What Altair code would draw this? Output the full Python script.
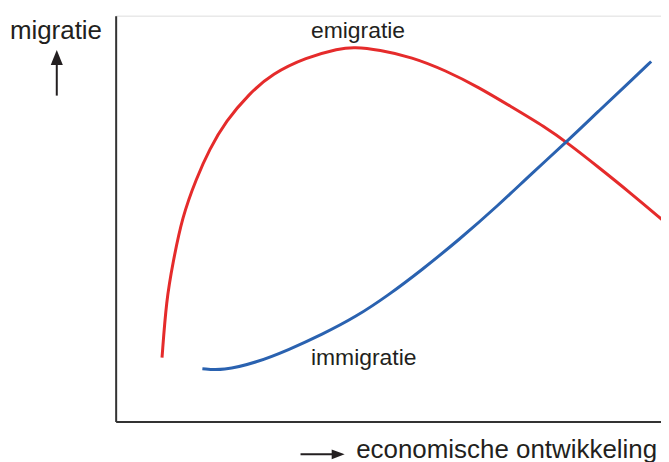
import altair as alt
import pandas as pd

# Curve values (x: economic development 0-100, y: migration 0-100)
emig_x = [8.5, 9.3, 10.5, 12.2, 14.8, 17.2, 20.2, 24.5, 28.7, 34.9, 41.0, 43.7, 48.3, 54.3, 60.5, 66.5, 72.6, 78.7, 83.0, 88.5, 94.5, 100.4]
emig_y = [15.7, 30.0, 39.1, 50.4, 59.9, 67.1, 74.0, 80.8, 85.7, 89.7, 91.9, 92.3, 91.6, 89.8, 86.5, 82.4, 77.5, 72.6, 68.5, 62.7, 56.2, 49.5]
immi_x = [15.9, 19.6, 25.8, 31.8, 37.8, 44.1, 50.1, 56.1, 62.9, 70.2, 76.2, 82.6, 88.5, 94.5, 98.2]
immi_y = [13.0, 12.5, 14.5, 17.7, 21.4, 25.8, 31.2, 37.3, 44.7, 53.3, 61.0, 68.8, 76.4, 84.0, 88.7]

series_names = ["emigratie", "immigratie"]
series_colors = ["#e52b2b", "#2a62b0"]

# Text annotations (in the same data units)
label_text = ["migratie", "emigratie", "immigratie", "economische ontwikkeling"]
label_x = [-19.4, 35.8, 35.8, 44.1]
label_y = [94.3, 94.6, 14.0, -9.1]
label_size = [26, 23, 23, 26]

# Arrows: shafts and heads
shaft_x = [-10.8, 33.9]
shaft_x2 = [-10.8, 40.0]
shaft_y = [80.3, -8.1]
shaft_y2 = [89.0, -8.1]
head_x = [-10.8, 40.8]
head_y = [89.7, -8.1]
head_shape = ["M0,-1L0.8,1L-0.8,1Z", "M1,0L-1,0.75L-1,-0.75Z"]
head_size = [230, 170]

lines = pd.DataFrame(
    {"x": emig_x + immi_x, "y": emig_y + immi_y,
     "serie": ["emigratie"] * len(emig_x) + ["immigratie"] * len(immi_x),
     "order": list(range(len(emig_x))) + list(range(len(immi_x)))}
)
labels = pd.DataFrame({"t": label_text, "x": label_x, "y": label_y, "s": label_size})
shafts = pd.DataFrame({"x": shaft_x, "x2": shaft_x2, "y": shaft_y, "y2": shaft_y2})
heads = pd.DataFrame({"x": head_x, "y": head_y, "shape": head_shape, "size": head_size})

xs = alt.Scale(domain=[0, 100], nice=False, zero=False)
ys = alt.Scale(domain=[0, 100], nice=False, zero=False)
axis_style = dict(labels=False, ticks=False, grid=False, title=None,
                  domainColor="#333333", domainWidth=2)

curves = alt.Chart(lines).mark_line(strokeWidth=3, interpolate="basis", strokeCap="butt").encode(
    x=alt.X("x:Q", scale=xs, axis=alt.Axis(**axis_style)),
    y=alt.Y("y:Q", scale=ys, axis=alt.Axis(**axis_style)),
    color=alt.Color("serie:N", scale=alt.Scale(domain=series_names, range=series_colors), legend=None),
    order="order:Q",
)

texts = alt.Chart(labels).mark_text(
    align="left", baseline="alphabetic", font="Liberation Sans", color="#231f20"
).encode(
    x=alt.X("x:Q", scale=xs), y=alt.Y("y:Q", scale=ys), text="t:N",
    size=alt.Size("s:Q", scale=None, legend=None),
)

shaft_layer = alt.Chart(shafts).mark_rule(color="#231f20", strokeWidth=2).encode(
    x=alt.X("x:Q", scale=xs), x2="x2:Q", y=alt.Y("y:Q", scale=ys), y2="y2:Q"
)

head_layer = alt.Chart(heads).mark_point(filled=True, color="#231f20", opacity=1, strokeWidth=0).encode(
    x=alt.X("x:Q", scale=xs), y=alt.Y("y:Q", scale=ys),
    shape=alt.Shape("shape:N", scale=None, legend=None),
    size=alt.Size("size:Q", scale=None, legend=None),
)

chart = alt.layer(curves, texts, shaft_layer, head_layer).properties(
    width=547, height=407,
    autosize=alt.AutoSizeParams(type="none"),
    padding={"left": 108, "top": 7, "right": 0, "bottom": 40},
).configure_view(stroke=None).configure(background="white")

chart.save("out.html", embed_options={"renderer": "svg", "actions": False})
